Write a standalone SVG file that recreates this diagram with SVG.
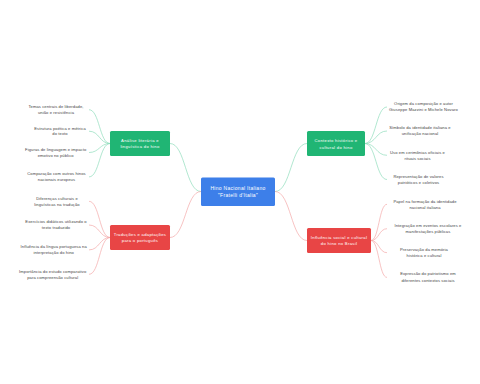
<svg xmlns="http://www.w3.org/2000/svg" width="480" height="384" viewBox="0 0 480 384">
<style>
.bg{fill:#ffffff}
.lg{fill:none;stroke:#8fdcbb;stroke-width:0.7}
.lr{fill:none;stroke:#f4a9a9;stroke-width:0.7}
.ng{fill:#20b574}
.nr{fill:#e84545}
.nb{fill:#3d7fe9}
.nt{font-family:"Liberation Sans","Open Sans",sans-serif;font-size:4.2px;fill:#ffffff;text-anchor:middle;letter-spacing:0.3px}
.ct{font-family:"Liberation Sans","Open Sans",sans-serif;font-size:5px;fill:#ffffff;text-anchor:middle;letter-spacing:0.3px}
.lt{font-family:"Liberation Sans","Open Sans",sans-serif;font-size:4.1px;fill:#444444;text-anchor:middle;letter-spacing:0.1px}
</style>
<rect class="bg" x="0" y="0" width="480" height="384"/>
<g id="connectors">
<path class="lg" d="M201 191.5 C185.5 191.5 185.5 143.5 170 143.5"/>
<path class="lr" d="M201 191.5 C185.5 191.5 185.5 237.5 170 237.5"/>
<path class="lg" d="M275 191.5 C291 191.5 291 143.5 307 143.5"/>
<path class="lr" d="M275 191.5 C291 191.5 291 240.5 307 240.5"/>
<path class="lg" d="M110 143.5 C99.5 143.5 99.5 109.7 89 109.7"/>
<path class="lg" d="M110 143.5 C99.5 143.5 99.5 131.2 89 131.2"/>
<path class="lg" d="M110 143.5 C99.5 143.5 99.5 152.5 89 152.5"/>
<path class="lg" d="M110 143.5 C99.5 143.5 99.5 176.9 89 176.9"/>
<path class="lr" d="M110 237.5 C99.5 237.5 99.5 201.3 89 201.3"/>
<path class="lr" d="M110 237.5 C99.5 237.5 99.5 225 89 225"/>
<path class="lr" d="M110 237.5 C99.5 237.5 99.5 249.9 89 249.9"/>
<path class="lr" d="M110 237.5 C99.5 237.5 99.5 274.3 89 274.3"/>
<path class="lg" d="M365 143.5 C376 143.5 376 107 387 107"/>
<path class="lg" d="M365 143.5 C376 143.5 376 131 387 131"/>
<path class="lg" d="M365 143.5 C376 143.5 376 155.3 387 155.3"/>
<path class="lg" d="M365 143.5 C376 143.5 376 179.5 387 179.5"/>
<path class="lr" d="M371 240.5 C379 240.5 379 204.3 387 204.3"/>
<path class="lr" d="M371 240.5 C379 240.5 379 228.7 387 228.7"/>
<path class="lr" d="M371 240.5 C379 240.5 379 252.7 387 252.7"/>
<path class="lr" d="M371 240.5 C379 240.5 379 277.4 387 277.4"/>
</g>
<g id="center">
<rect class="nb" x="201" y="177.5" width="74" height="28.5" rx="1.5"/>
<text class="ct" x="238" y="190.4">Hino Nacional Italiano</text>
<text class="ct" x="238" y="197.4">"Fratelli d'Italia"</text>
</g>
<g id="n-analise">
<rect class="ng" x="110" y="131" width="60" height="25" rx="1.5"/>
<text class="nt" x="140" y="141.5">Análise literária e</text>
<text class="nt" x="140" y="148">linguística do hino</text>
</g>
<g id="n-contexto">
<rect class="ng" x="307" y="131" width="58" height="25" rx="1.5"/>
<text class="nt" x="336" y="142.4">Contexto histórico e</text>
<text class="nt" x="336" y="148.6">cultural do hino</text>
</g>
<g id="n-traducoes">
<rect class="nr" x="110" y="225" width="60" height="25" rx="1.5"/>
<text class="nt" x="140" y="236.4">Traduções e adaptações</text>
<text class="nt" x="140" y="242.2">para o português</text>
</g>
<g id="n-influencia">
<rect class="nr" x="307" y="228" width="64" height="25" rx="1.5"/>
<text class="nt" x="339" y="239.1">Influência social e cultural</text>
<text class="nt" x="339" y="245.1">do hino no Brasil</text>
</g>
<g id="l-temas"><text class="lt" x="56" y="108.1">Temas centrais de liberdade,</text><text class="lt" x="56" y="114.1">união e resistência</text></g>
<g id="l-estrutura"><text class="lt" x="60" y="129.7">Estrutura poética e métrica</text><text class="lt" x="60" y="135.4">do texto</text></g>
<g id="l-figuras"><text class="lt" x="55.7" y="151.1">Figuras de linguagem e impacto</text><text class="lt" x="55.7" y="156.7">emotivo no público</text></g>
<g id="l-comparacao"><text class="lt" x="56.5" y="175.4">Comparação com outros hinos</text><text class="lt" x="56.5" y="181.1">nacionais europeus</text></g>
<g id="l-diferencas"><text class="lt" x="57" y="199.7">Diferenças culturais e</text><text class="lt" x="57" y="205.7">linguísticas na tradução</text></g>
<g id="l-exercicios"><text class="lt" x="56" y="223.4">Exercícios didáticos utilizando o</text><text class="lt" x="56" y="229.4">texto traduzido</text></g>
<g id="l-influencia-lp"><text class="lt" x="53.7" y="248.1">Influência da língua portuguesa na</text><text class="lt" x="53.7" y="254.4">interpretação do hino</text></g>
<g id="l-importancia"><text class="lt" x="52.7" y="272.7">Importância do estudo comparativo</text><text class="lt" x="52.7" y="278.7">para compreensão cultural</text></g>
<g id="l-origem"><text class="lt" x="423.5" y="105.4">Origem da composição e autor</text><text class="lt" x="423.5" y="111.4">Giuseppe Mazzini e Michele Novaro</text></g>
<g id="l-simbolo"><text class="lt" x="420" y="129.4">Símbolo da identidade italiana e</text><text class="lt" x="420" y="135.4">unificação nacional</text></g>
<g id="l-uso"><text class="lt" x="417.5" y="153.7">Uso em cerimônias oficiais e</text><text class="lt" x="417.5" y="159.7">rituais sociais</text></g>
<g id="l-representacao"><text class="lt" x="418.5" y="178.1">Representação de valores</text><text class="lt" x="418.5" y="183.7">patrióticos e coletivos</text></g>
<g id="l-papel"><text class="lt" x="425" y="202.7">Papel na formação da identidade</text><text class="lt" x="425" y="208.7">nacional italiana</text></g>
<g id="l-integracao"><text class="lt" x="428" y="227.1">Integração em eventos escolares e</text><text class="lt" x="428" y="233.1">manifestações públicas</text></g>
<g id="l-preservacao"><text class="lt" x="424" y="251.1">Preservação da memória</text><text class="lt" x="424" y="257.1">histórica e cultural</text></g>
<g id="l-expressao"><text class="lt" x="428" y="275.4">Expressão do patriotismo em</text><text class="lt" x="428" y="282.1">diferentes contextos sociais</text></g>
</svg>
